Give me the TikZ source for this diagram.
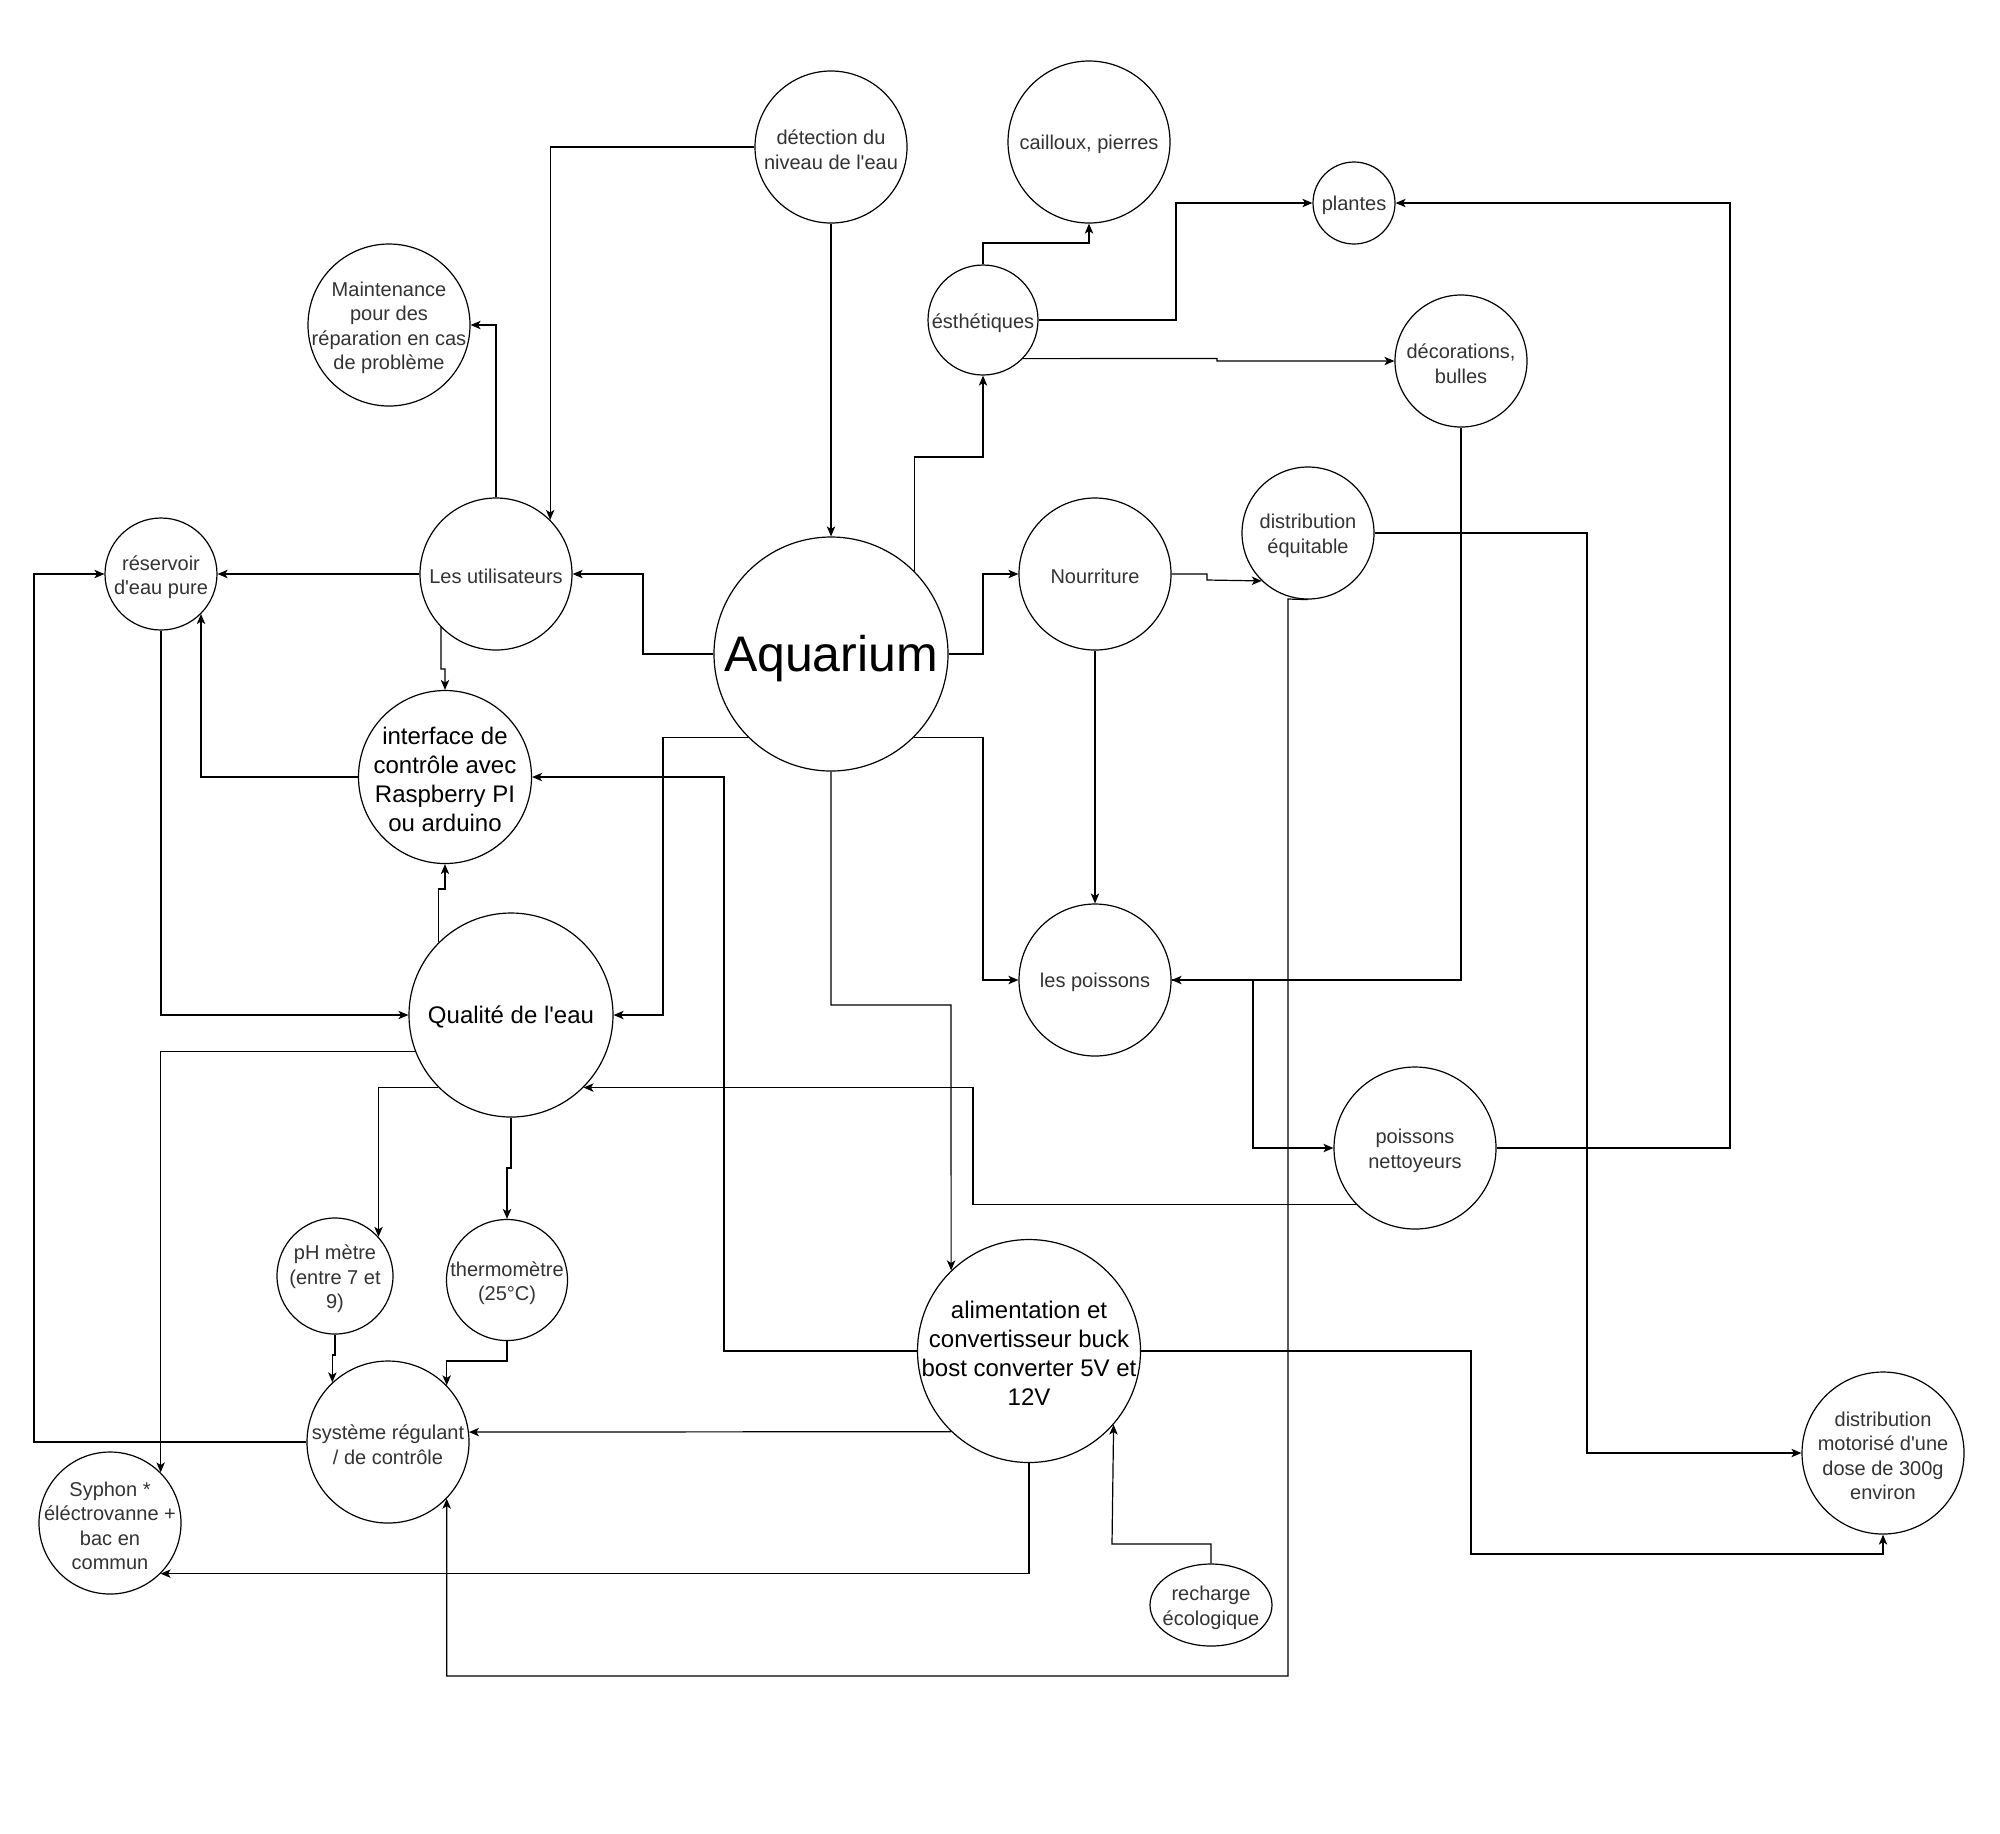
\documentclass[tikz,border=0pt]{standalone}
\usepackage{fontspec}
\setmainfont{Liberation Sans}
\usetikzlibrary{arrows.meta,shapes.geometric}
\definecolor{txtgrey}{HTML}{333333}
\newcommand{\apo}{\textquotesingle}
\begin{document}
\begin{tikzpicture}[x=0.5pt,y=-0.5pt,
  circ/.style={circle, draw=black, line width=0.6pt, fill=white, inner sep=0pt, minimum size=#1},
  lbl/.style={align=center, font=\fontsize{10}{12.1}\selectfont, text=txtgrey, inner sep=0pt, yshift=-1.4pt},
  lblb/.style={align=center, font=\fontsize{12}{14.4}\selectfont, text=black, inner sep=0pt, yshift=-1.2pt},
  lblh/.style={align=center, font=\fontsize{25}{30}\selectfont, text=black, inner sep=0pt, yshift=-2.5pt},
  arr/.style={-{Stealth[length=5pt,width=4.2pt,inset=1.3pt]}, line width=0.6pt, draw=black}]
\fill[white] (0,0) rectangle (2000,1833);
\useasboundingbox (0,0) rectangle (2000,1833);

% nodes
\node[circ=76pt, label={[lbl]center:{détection du\\niveau de l\apo eau}}] (det) at (831,147) {};
\node[circ=81pt, label={[lbl]center:{cailloux, pierres}}] (cail) at (1089,142) {};
\node[circ=41pt, label={[lbl]center:{plantes}}] (plan) at (1354,203) {};
\node[circ=55pt, label={[lbl]center:{ésthétiques}}] (esth) at (983,320) {};
\node[circ=66pt, label={[lbl]center:{décorations,\\bulles}}] (deco) at (1461,361) {};
\node[circ=81pt, label={[lbl]center:{Maintenance\\pour des\\réparation en cas\\de problème}}] (maint) at (389,325) {};
\node[circ=76pt, label={[lbl]center:{Les utilisateurs}}] (util) at (496,574) {};
\node[circ=56pt, label={[lbl]center:{réservoir\\d\apo eau pure}}] (res) at (161,574) {};
\node[circ=117pt, label={[lblh]center:{Aquarium}}] (aqua) at (831,654) {};
\node[circ=76pt, label={[lbl]center:{Nourriture}}] (nour) at (1095,574) {};
\node[circ=66pt, label={[lbl]center:{distribution\\équitable}}] (dist) at (1308,533) {};
\node[circ=86.5pt, label={[lblb]center:{interface de\\contrôle avec\\Raspberry PI\\ou arduino}}] (inter) at (445,777) {};
\node[circ=102pt, label={[lblb]center:{Qualité de l\apo eau}}] (qual) at (511,1015) {};
\node[circ=76pt, label={[lbl]center:{les poissons}}] (poi) at (1095,980) {};
\node[circ=81pt, label={[lbl]center:{poissons\\nettoyeurs}}] (net) at (1415,1148) {};
\node[circ=58pt, label={[lbl]center:{pH mètre\\(entre 7 et\\9)}}] (ph) at (335,1276) {};
\node[circ=60.5pt, label={[lbl]center:{thermomètre\\(25°C)}}] (therm) at (507,1280) {};
\node[circ=111.5pt, label={[lblb]center:{alimentation et\\convertisseur buck\\bost converter 5V et\\12V}}] (alim) at (1029,1351) {};
\node[circ=81pt, label={[lbl]center:{système régulant\\/ de contrôle}}] (sys) at (388,1442) {};
\node[circ=71pt, label={[lbl]center:{Syphon *\\éléctrovanne +\\bac en\\commun}}] (syph) at (110,1523) {};
\node[ellipse, draw=black, line width=0.6pt, fill=white, inner sep=0pt, minimum width=61pt, minimum height=41pt,
      label={[lbl]center:{recharge\\écologique}}] (rech) at (1211,1605) {};
\node[circ=81pt, label={[lbl]center:{distribution\\motorisé d\apo une\\dose de 300g\\environ}}] (moto) at (1883,1453) {};

% connectors
\draw[arr] (det.west) -| (util.45);
\draw[arr] (det.south) -- (aqua.north);
\draw[arr] (util.north) |- (maint.east);
\draw[arr] (aqua.west) -- (643,654) |- (util.east);
\draw[arr] (util.west) -- (res.east);
\draw[arr] (util.-136.4) -- (441,669) -- (445,669) -- (inter.north);
\draw[arr] (aqua.45) |- (983,457) -- (esth.south);
\draw[arr] (esth.north) -- (983,243) -| (cail.south);
\draw[arr] (esth.east) -| (1176,203) -- (plan.west);
\draw[arr] (esth.-44.4) -- (1217,358.5) -- (1217,361) -- (deco.west);
\draw[arr] (aqua.east) -- (983,654) |- (nour.west);
\draw[arr] (nour.east) -- (1207,574) -- (1207,580) -- (dist.-134.6);
\draw[arr] (nour.south) -- (poi.north);
\draw[arr] (dist.south) -- (1288,599) -- (1288,1676) -| (sys.-44.3);
\draw[arr] (dist.east) -| (1587,1453) -- (moto.west);
\draw[arr] (deco.south) |- (poi.east);
\draw[arr] (net.east) -| (1730,203) -- (plan.east);
\draw[arr] (poi.east) -- (1253,980) |- (net.west);
\draw[arr] (net.-136.7) -| (973,1087) |- (qual.-45);
\draw[arr] (aqua.-135) -| (663,1015) -- (qual.east);
\draw[arr] (aqua.-45) -| (983,980) -- (poi.west);
\draw[arr] (aqua.south) |- (951,1005) -- (alim.134.4);
\draw[arr] (alim.west) -| (724,777) -- (inter.east);
\draw[arr] (inter.west) -| (res.-45.9);
\draw[arr] (res.south) |- (qual.west);
\draw[arr] (qual.135) |- (445,889) -- (inter.south);
\draw[arr] (qual.-159.3) -| (syph.45.2);
\draw[arr] (qual.-135) -| (ph.42.9);
\draw[arr] (qual.south) -- (511,1168) -| (therm.north);
\draw[arr] (ph.south) -- (335,1355) -| (sys.133.7);
\draw[arr] (therm.south) -- (507,1361) -| (sys.44.3);
\draw[arr] (alim.-134.15) -- (sys.7.8);
\draw[arr] (sys.west) -| (34,574) -- (res.west);
\draw[arr] (alim.south) |- (syph.-45.9);
\draw[arr] (rech.north) |- (1112,1544) -- (alim.-41.9);
\draw[arr] (alim.east) -| (1471,1554) -| (moto.south);
\end{tikzpicture}
\end{document}
